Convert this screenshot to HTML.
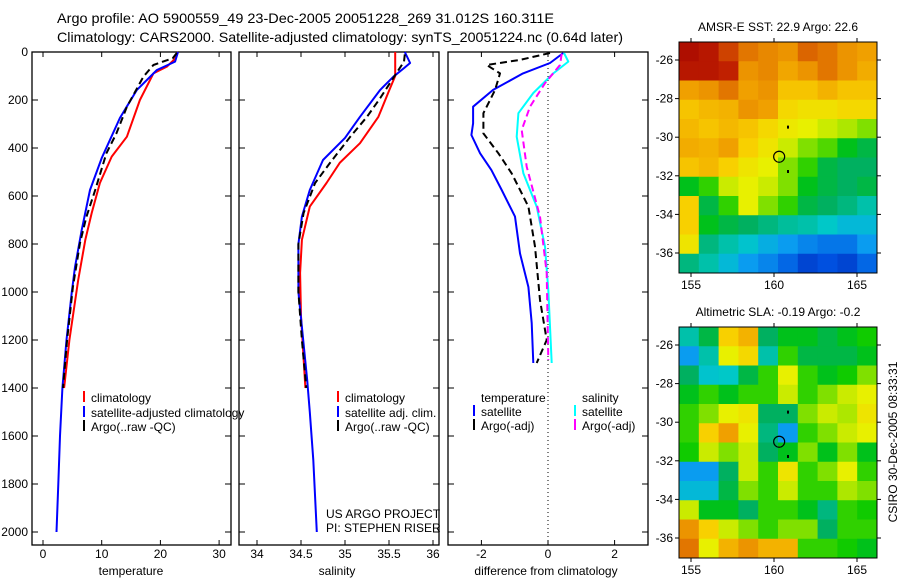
<!DOCTYPE html>
<html><head><meta charset="utf-8"><style>
html,body{margin:0;padding:0;background:#fff;}
svg{display:block;font-family:"Liberation Sans",sans-serif;}
</style></head><body>
<svg id="chart" width="900" height="580" viewBox="0 0 900 580" xmlns="http://www.w3.org/2000/svg">
<text x="57" y="23" font-size="14" textLength="497" lengthAdjust="spacingAndGlyphs">Argo profile: AO 5900559_49 23-Dec-2005 20051228_269 31.012S 160.311E</text>
<text x="57" y="42" font-size="14" textLength="566" lengthAdjust="spacingAndGlyphs">Climatology: CARS2000. Satellite-adjusted climatology: synTS_20051224.nc (0.64d later)</text>
<g id="plots"></g>
</svg>
<script>
// ---- data ----
const depthTicks=[0,200,400,600,800,1000,1200,1400,1600,1800,2000];
const tempTicks=[0,10,20,30];
const salTicks=[34,34.5,35,35.5,36];
const diffTicks=[-2,0,2];
const tClimD=[0,28,61,89,200,353,436,546,671,783,950,1200,1400];
const tClimV=[23,22.5,21.1,18.8,16.5,14.3,11.7,9.7,8.3,7.2,6.0,4.5,3.6];
const tSatD=[0,40,75,158,275,442,575,742,896,1000,1200,1400,1600,1800,2000];
const tSatV=[23,22.5,19.4,16,13.1,10,8,6.6,5.45,4.9,4.0,3.3,2.9,2.6,2.3];
const tArgoD=[4,26,54,103,228,339,422,575,687,796,979,1200,1400];
const tArgoV=[22.8,22.1,18.8,17.1,14.3,12.5,10.8,8.9,7.4,6.3,5.1,4.1,3.4];
const sClimD=[0,100,171,270,380,462,546,644,783,921,1100,1400];
const sClimV=[35.57,35.57,35.49,35.38,35.17,34.94,34.79,34.6,34.51,34.49,34.5,34.55];
const sSatD=[0,46,67,103,158,270,358,450,575,686,800,1000,1367,1500,1700,2000];
const sSatV=[35.68,35.74,35.67,35.55,35.4,35.17,35.0,34.75,34.6,34.51,34.47,34.47,34.57,34.6,34.64,34.68];
const sArgoD=[10,40,130,192,270,353,462,546,671,800,1000,1200,1400];
const sArgoV=[35.68,35.67,35.51,35.4,35.25,35.06,34.83,34.66,34.53,34.47,34.47,34.51,34.56];
const dTSatD=[4,46,89,158,228,297,346,422,492,575,686,839,979,1129,1296];
const dTSatV=[0.46,0.06,-0.75,-1.65,-2.25,-2.25,-2.3,-2.04,-1.7,-1.39,-0.99,-0.84,-0.59,-0.49,-0.44];
const dTArgoD=[4,33,54,89,158,255,339,422,506,644,811,1033,1200,1296];
const dTArgoV=[0.06,-0.84,-1.84,-1.44,-1.59,-1.94,-1.94,-1.49,-1.09,-0.59,-0.39,-0.24,-0.04,-0.34];
const dSSatD=[4,40,89,171,255,353,506,644,811,992,1296];
const dSSatV=[0.48,0.61,0.16,-0.44,-0.89,-0.94,-0.74,-0.34,-0.09,0.01,0.11];
const dSArgoD=[8,54,130,228,325,478,686,921,1283];
const dSArgoV=[0.41,0.36,-0.09,-0.54,-0.79,-0.64,-0.24,-0.04,0.01];
const sstGrid=[
[0.97,0.95,0.9,0.85,0.82,0.8,0.87,0.85,0.8,0.78],
[0.95,0.95,0.93,0.8,0.82,0.77,0.8,0.85,0.8,0.76],
[0.78,0.8,0.85,0.78,0.8,0.72,0.72,0.75,0.72,0.72],
[0.72,0.74,0.75,0.8,0.78,0.68,0.66,0.66,0.68,0.68],
[0.74,0.72,0.74,0.72,0.68,0.64,0.62,0.6,0.58,0.55],
[0.76,0.75,0.78,0.7,0.65,0.6,0.55,0.52,0.45,0.42],
[0.72,0.74,0.7,0.65,0.62,0.55,0.5,0.42,0.4,0.4],
[0.45,0.5,0.6,0.62,0.6,0.55,0.45,0.42,0.4,0.42],
[0.7,0.42,0.5,0.62,0.55,0.5,0.42,0.4,0.38,0.35],
[0.7,0.45,0.42,0.4,0.38,0.36,0.35,0.33,0.3,0.3],
[0.65,0.38,0.35,0.32,0.28,0.25,0.22,0.2,0.2,0.25],
[0.38,0.35,0.3,0.25,0.22,0.18,0.12,0.15,0.12,0.18]];
const slaGrid=[
[0.35,0.42,0.7,0.75,0.4,0.45,0.45,0.42,0.45,0.48],
[0.25,0.35,0.62,0.68,0.35,0.5,0.42,0.42,0.42,0.45],
[0.4,0.32,0.33,0.42,0.5,0.62,0.5,0.45,0.48,0.55],
[0.45,0.5,0.45,0.5,0.5,0.6,0.5,0.55,0.6,0.62],
[0.5,0.55,0.62,0.65,0.4,0.4,0.55,0.6,0.58,0.65],
[0.5,0.7,0.78,0.62,0.38,0.25,0.5,0.55,0.6,0.62],
[0.48,0.6,0.55,0.6,0.4,0.45,0.55,0.45,0.55,0.45],
[0.25,0.25,0.4,0.6,0.5,0.65,0.5,0.55,0.62,0.5],
[0.3,0.3,0.42,0.55,0.5,0.6,0.5,0.5,0.58,0.55],
[0.6,0.45,0.45,0.4,0.5,0.5,0.45,0.38,0.5,0.48],
[0.8,0.7,0.6,0.55,0.5,0.55,0.55,0.4,0.5,0.5],
[0.85,0.62,0.75,0.8,0.75,0.75,0.5,0.5,0.48,0.45]];
const lonTicks=[155,160,165];
const latTicks=[-26,-28,-30,-32,-34,-36];
const floatLon=[160.311];
const floatLat=[-31.012];

// ---- drawing ----
const NS='http://www.w3.org/2000/svg';
const root=document.getElementById('plots');
function mk(tag,attrs,parent){const e=document.createElementNS(NS,tag);for(const k in attrs)e.setAttribute(k,attrs[k]);(parent||root).appendChild(e);return e;}
const TOP=52,BOT=545;
const yD=d=>52+d*0.24;
const panels=[
 {name:'temperature',x0:32,x1:231,fx:v=>43+v*5.87,ticks:tempTicks,label:'temperature',lx:131},
 {name:'salinity',x0:239,x1:439,fx:v=>257+(v-34)*88,ticks:salTicks,label:'salinity',lx:337},
 {name:'difference',x0:448,x1:648,fx:v=>548+v*33.3,ticks:diffTicks,label:'difference from climatology',lx:546}];
panels.forEach((p,pi)=>{
  const g=mk('g',{});
  
  
  const fr=mk('rect',{x:p.x0,y:TOP,width:p.x1-p.x0,height:BOT-TOP,fill:'none',stroke:'#000','stroke-width':1.3},g);
  
  
  depthTicks.forEach(d=>{
    const y=yD(d);
    mk('line',{x1:p.x0,x2:p.x0+6,y1:y,y2:y,stroke:'#000'},g);
    mk('line',{x1:p.x1-6,x2:p.x1,y1:y,y2:y,stroke:'#000'},g);
    if(pi===0){const t=mk('text',{x:28,y:y+4,'font-size':12,'text-anchor':'end'},g);t.textContent=d;
      
      }
  });
  p.ticks.forEach(v=>{
    const x=p.fx(v);
    mk('line',{x1:x,x2:x,y1:TOP,y2:TOP+5,stroke:'#000'},g);
    mk('line',{x1:x,x2:x,y1:BOT-5,y2:BOT,stroke:'#000'},g);
    const t=mk('text',{x:x,y:558,'font-size':12,'text-anchor':'middle'},g);t.textContent=v;
    
    
  });
  const xl=mk('text',{x:p.lx,y:575,'font-size':12,'text-anchor':'middle'},g);xl.textContent=p.label;
  
  
});
function line(p,D,V,color,dash,name){
  const pts=D.map((d,i)=>p.fx(V[i]).toFixed(1)+','+yD(d).toFixed(1)).join(' ');
  const l=mk('polyline',{points:pts,fill:'none',stroke:color,'stroke-width':2,'stroke-linejoin':'round'});
  if(dash)l.setAttribute('stroke-dasharray',dash);
  
  
}
const [P1,P2,P3]=panels;
line(P1,tClimD,tClimV,'#f00',null,'temperature-climatology-line');
line(P1,tSatD,tSatV,'#00f',null,'temperature-satellite-line');
line(P1,tArgoD,tArgoV,'#000','7,4','temperature-argo-line');
line(P2,sClimD,sClimV,'#f00',null,'salinity-climatology-line');
line(P2,sSatD,sSatV,'#00f',null,'salinity-satellite-line');
line(P2,sArgoD,sArgoV,'#000','7,4','salinity-argo-line');
const zl=mk('line',{x1:P3.fx(0),x2:P3.fx(0),y1:TOP,y2:BOT,stroke:'#000','stroke-dasharray':'1,3'});


line(P3,dTSatD,dTSatV,'#00f',null,'temperature-diff-satellite-line');
line(P3,dTArgoD,dTArgoV,'#000','7,4','temperature-diff-argo-line');
line(P3,dSSatD,dSSatV,'#0ff',null,'salinity-diff-satellite-line');
line(P3,dSArgoD,dSArgoV,'#f0f','7,4','salinity-diff-argo-line');

function legend(x,y,color,text){
  const g=mk('g',{});
  
  
  if(color)mk('rect',{x:x,y:y-11,width:2,height:11,fill:color},g);
  const t=mk('text',{x:x+8,y:y,'font-size':12},g);t.textContent=text;
}
legend(83,402,'#f00','climatology');
legend(83,417,'#00f','satellite-adjusted climatology');
legend(83,431,'#000','Argo(..raw -QC)');
legend(337,402,'#f00','climatology');
legend(337,417,'#00f','satellite adj. clim.');
legend(337,431,'#000','Argo(..raw -QC)');
legend(473,402,null,'temperature');
legend(473,416,'#00f','satellite');
legend(473,430,'#000','Argo(-adj)');
legend(574,402,null,'salinity');
legend(574,416,'#0ff','satellite');
legend(574,430,'#f0f','Argo(-adj)');
const n1=mk('text',{x:326,y:518,'font-size':12});n1.textContent='US ARGO PROJECT';


const n2=mk('text',{x:326,y:532,'font-size':12});n2.textContent='PI: STEPHEN RISER';



// colormap
const cStops=[[0,[0,26,154]],[0.15,[0,80,224]],[0.25,[10,156,240]],[0.33,[0,200,200]],[0.4,[0,176,96]],[0.47,[0,200,0]],[0.55,[128,224,0]],[0.62,[232,240,0]],[0.7,[248,208,0]],[0.78,[240,160,0]],[0.86,[224,112,0]],[0.93,[192,32,0]],[1,[160,0,0]]];
function cmap(v){for(let i=1;i<cStops.length;i++){if(v<=cStops[i][0]){const a=cStops[i-1],b=cStops[i],t=(v-a[0])/(b[0]-a[0]);return 'rgb('+a[1].map((c,k)=>Math.round(c+(b[1][k]-c)*t)).join(',')+')';}}return 'rgb(160,0,0)';}
function map(top,grid,title,name){
  const L=679,R=877,B=top+231;
  const fx=lon=>691+(lon-155)*16.6, fy=lat=>(top+18)+(-26-lat)*19.3;
  const g=mk('g',{});
  
  
  const rows=grid.length,cols=grid[0].length,cw=(R-L)/cols,ch=(B-top)/rows;
  grid.forEach((row,r)=>row.forEach((v,c)=>{
    const cell=mk('rect',{x:L+c*cw,y:top+r*ch,width:cw+0.5,height:ch+0.5,fill:cmap(v)},g);
    
    
  }));
  mk('rect',{x:L,y:top,width:R-L,height:B-top,fill:'none',stroke:'#000'},g);
  lonTicks.forEach(v=>{const x=fx(v);mk('line',{x1:x,x2:x,y1:top-4,y2:top,stroke:'#000'},g);mk('line',{x1:x,x2:x,y1:B,y2:B+4,stroke:'#000'},g);
    const t=mk('text',{x:x,y:B+16,'font-size':12,'text-anchor':'middle'},g);t.textContent=v;
    
    });
  latTicks.forEach(v=>{const y=fy(v);mk('line',{x1:L-4,x2:L,y1:y,y2:y,stroke:'#000'},g);mk('line',{x1:R,x2:R+4,y1:y,y2:y,stroke:'#000'},g);
    const t=mk('text',{x:L-6,y:y+4,'font-size':12,'text-anchor':'end'},g);t.textContent=v;
    
    });
  const tt=mk('text',{x:(L+R)/2,y:top-11,'font-size':12,'text-anchor':'middle'},g);tt.textContent=title;
  
  
  const c=mk('circle',{cx:fx(floatLon[0]),cy:fy(floatLat[0]),r:5.5,fill:'none',stroke:'#000','stroke-width':1.2},g);
  
  
  mk('rect',{x:L+108,y:fy(-29.4),width:2,height:3,fill:'#000'},g);
  mk('rect',{x:L+108,y:fy(-31.7),width:2,height:3,fill:'#000'},g);
}
map(42,sstGrid,'AMSR-E SST: 22.9 Argo: 22.6','sst-map');
map(327,slaGrid,'Altimetric SLA: -0.19 Argo: -0.2','sla-map');
const cs=mk('text',{x:0,y:0,'font-size':12,'text-anchor':'middle',transform:'translate(897,442) rotate(-90)'});
cs.textContent='CSIRO 30-Dec-2005 08:33:31';


</script>
</body></html>
